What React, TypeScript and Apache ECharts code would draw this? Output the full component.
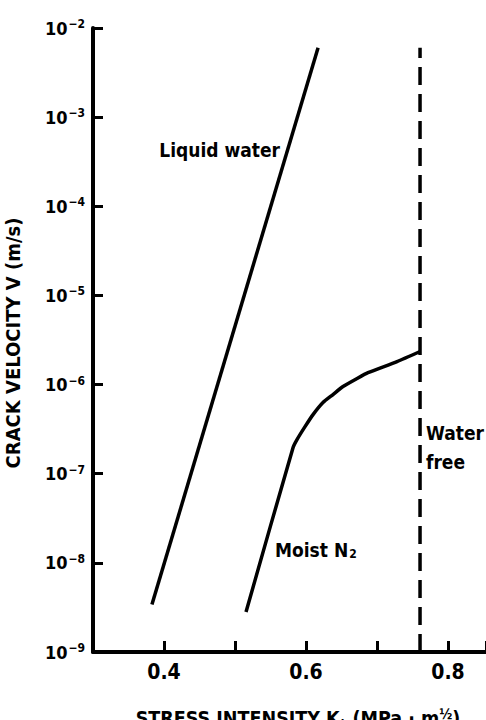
import React, { useEffect, useRef } from "react";
import * as echarts from "echarts";

const FONT = "'DejaVu Sans Condensed', sans-serif";

// Stress intensity K_I (MPa·m^1/2) and crack velocity V (m/s)
const liquidWaterK = [0.383, 0.617];
const liquidWaterV = [3.4e-9, 6.0e-3];

const moistN2K = [0.5155, 0.5817, 0.5873, 0.5986, 0.6099, 0.6239, 0.638, 0.6521, 0.6718, 0.6873, 0.7282, 0.7606];
const moistN2V = [2.81e-9, 1.96e-7, 2.41e-7, 3.37e-7, 4.6e-7, 6.28e-7, 7.73e-7, 9.51e-7, 1.17e-6, 1.36e-6, 1.81e-6, 2.35e-6];

const waterFreeK = [0.7606, 0.7606];
const waterFreeV = [1e-9, 6.0e-3];

const xTickLabels = ["0.4", "0.6", "0.8"];

export default function App() {
  const ref = useRef<HTMLDivElement>(null);
  useEffect(() => {
    if (!ref.current) return;
    const chart = echarts.init(ref.current, null, { renderer: "svg" });
    const pair = (xs: number[], ys: number[]) => xs.map((x, i) => [x, ys[i]]);
    chart.setOption({
      animation: false,
      grid: { left: 93, right: 0, top: 28, bottom: 68, outerBoundsMode: "none", containLabel: false },
      xAxis: {
        type: "value",
        min: 0.3,
        max: 0.8535,
        interval: 0.1,
        name: "{a|STRESS INTENSITY K}{sub|I}{a| (MPa · m}{sup|½}{a|)}",
        nameLocation: "middle",
        nameGap: 55,
        nameTextStyle: {
          padding: [0, 0, 0, 17],
          rich: {
            a: { fontFamily: FONT, fontWeight: "bold", fontSize: 19.5, color: "#000", lineHeight: 22 },
            sub: { fontFamily: FONT, fontWeight: "bold", fontSize: 11, color: "#000", verticalAlign: "bottom", padding: [8, 2, 0, 1] },
            sup: { fontFamily: FONT, fontWeight: "bold", fontSize: 14, color: "#000", verticalAlign: "top", padding: [0, 0, 6, 0] },
          },
        },
        splitLine: { show: false },
        axisLine: { show: true, lineStyle: { color: "#000", width: 4 } },
        axisTick: { show: true, inside: true, length: 11, lineStyle: { color: "#000", width: 3 } },
        axisLabel: {
          margin: 9,
          color: "#000",
          fontFamily: FONT,
          fontWeight: "bold",
          fontSize: 21,
          formatter: (v: number) => {
            const s = v.toFixed(1);
            return xTickLabels.includes(s) ? s : "";
          },
        },
      },
      yAxis: {
        type: "log",
        min: 1e-9,
        max: 1e-2,
        interval: 1,
        name: "CRACK VELOCITY V (m/s)",
        nameLocation: "middle",
        nameGap: 70,
        nameTextStyle: { fontFamily: FONT, fontWeight: "bold", fontSize: 20, color: "#000", padding: [0, 6, 0, 0] },
        splitLine: { show: false },
        axisLine: { show: true, lineStyle: { color: "#000", width: 4 } },
        axisTick: { show: true, inside: true, length: 10, lineStyle: { color: "#000", width: 3 } },
        axisLabel: {
          margin: 8,
          color: "#000",
          formatter: (v: number) => {
            const n = Math.round(Math.log10(v));
            return `{b|10}{s|${n < 0 ? "−" : ""}${Math.abs(n)}}`;
          },
          rich: {
            b: { fontFamily: FONT, fontWeight: "bold", fontSize: 18, color: "#000", lineHeight: 20 },
            s: { fontFamily: FONT, fontWeight: "bold", fontSize: 12, color: "#000", verticalAlign: "top", padding: [0, 0, 8, 1] },
          },
        },
      },
      graphic: [
        {
          type: "text",
          x: 280,
          y: 150,
          style: { text: "Liquid water", fontFamily: FONT, fontWeight: "bold", fontSize: 19, fill: "#000", align: "right", verticalAlign: "middle" },
        },
        {
          type: "text",
          x: 275,
          y: 550,
          style: {
            text: "{a|Moist N}{sub|2}",
            align: "left",
            verticalAlign: "middle",
            rich: {
              a: { fontFamily: FONT, fontWeight: "bold", fontSize: 19, fill: "#000", lineHeight: 20 },
              sub: { fontFamily: FONT, fontWeight: "bold", fontSize: 12, fill: "#000", verticalAlign: "bottom", padding: [8, 0, 0, 1] },
            },
          },
        },
        {
          type: "text",
          x: 426,
          y: 433,
          style: { text: "Water", fontFamily: FONT, fontWeight: "bold", fontSize: 19, fill: "#000", align: "left", verticalAlign: "middle" },
        },
        {
          type: "text",
          x: 426,
          y: 462,
          style: { text: "free", fontFamily: FONT, fontWeight: "bold", fontSize: 19, fill: "#000", align: "left", verticalAlign: "middle" },
        },
      ],
      series: [
        {
          name: "Liquid water",
          type: "line",
          data: pair(liquidWaterK, liquidWaterV),
          symbol: "none",
          lineStyle: { color: "#000", width: 3.5 },
        },
        {
          name: "Moist N2",
          type: "line",
          data: pair(moistN2K, moistN2V),
          symbol: "none",
          smooth: 0.2,
          lineStyle: { color: "#000", width: 3.5 },
        },
        {
          name: "Water free",
          type: "line",
          data: pair(waterFreeK, waterFreeV),
          symbol: "none",
          lineStyle: { color: "#000", width: 3.5, type: [18, 9] },
        },
      ],
    });
    return () => chart.dispose();
  }, []);
  return <div ref={ref} style={{ position: "fixed", left: 0, top: 0, width: 486, height: 720, background: "#fff" }} />;
}
